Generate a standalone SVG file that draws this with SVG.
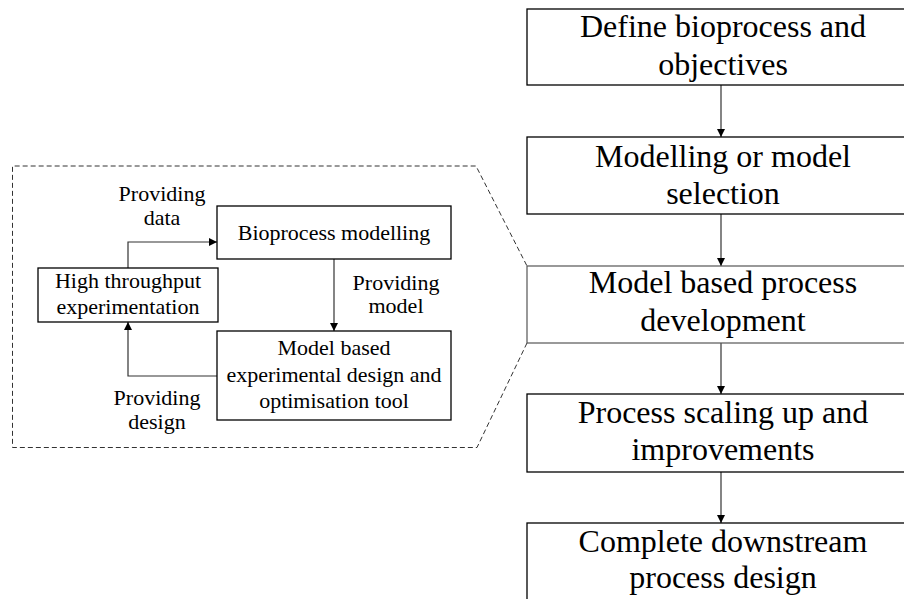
<svg xmlns="http://www.w3.org/2000/svg" width="904" height="599" viewBox="0 0 904 599">
  <style>
    .box { fill: #ffffff; stroke: #000000; stroke-width: 1.3; }
    .box-soft { fill: #ffffff; stroke: #555555; stroke-width: 1.2; }
    .big { font-family: "Liberation Serif", "Times New Roman", serif; font-size: 32px; fill: #000000; text-anchor: middle; }
    .small { font-family: "Liberation Serif", "Times New Roman", serif; font-size: 22px; fill: #000000; text-anchor: middle; }
    .conn { fill: none; stroke: #333333; stroke-width: 1.2; }
    .zoom-outline { fill: none; stroke: #333333; stroke-width: 1; stroke-dasharray: 5 3; }
  </style>
  <defs>
    <marker id="arrow" viewBox="0 0 10 10" refX="10" refY="5" markerWidth="8" markerHeight="8" markerUnits="userSpaceOnUse" orient="auto">
      <path d="M0,0 L10,5 L0,10 Z" fill="#000000"/>
    </marker>
  </defs>
  <rect width="904" height="599" fill="#ffffff"/>

  <!-- dashed callout around the detailed loop, opening onto the model based step -->
  <path class="zoom-outline" d="M527,343 L477,447.5 L12.5,447.5 L12.5,166 L476,166 L527,266"/>

  <!-- connectors -->
  <g id="connectors">
    <path class="conn" marker-end="url(#arrow)" d="M721,85 L721,137"/>
    <path class="conn" marker-end="url(#arrow)" d="M721,214 L721,266"/>
    <path class="conn" marker-end="url(#arrow)" d="M721,343 L721,394"/>
    <path class="conn" marker-end="url(#arrow)" d="M721,472 L721,523"/>
    <path class="conn" marker-end="url(#arrow)" d="M128,268 L128,242 L217,242"/>
    <path class="conn" marker-end="url(#arrow)" d="M334,259 L334,331"/>
    <path class="conn" marker-end="url(#arrow)" d="M217,376 L128,376 L128,322"/>
  </g>

  <!-- connector labels -->
  <g id="labels">
    <text class="small" x="162" y="201">Providing</text>
    <text class="small" x="162" y="225">data</text>
    <text class="small" x="396" y="290">Providing</text>
    <text class="small" x="396" y="313">model</text>
    <text class="small" x="157" y="405">Providing</text>
    <text class="small" x="157" y="429">design</text>
  </g>

  <!-- main process steps -->
  <g id="define">
    <rect class="box" x="527" y="9" width="392" height="76"/>
    <text class="big" x="723" y="37">Define bioprocess and</text>
    <text class="big" x="723" y="75">objectives</text>
  </g>
  <g id="modelling">
    <rect class="box" x="527" y="137" width="392" height="77"/>
    <text class="big" x="723" y="167">Modelling or model</text>
    <text class="big" x="723" y="204">selection</text>
  </g>
  <g id="model-based">
    <rect class="box-soft" x="527" y="266" width="392" height="77"/>
    <text class="big" x="723" y="293">Model based process</text>
    <text class="big" x="723" y="331">development</text>
  </g>
  <g id="scaling">
    <rect class="box" x="527" y="394" width="392" height="78"/>
    <text class="big" x="723" y="423">Process scaling up and</text>
    <text class="big" x="723" y="460">improvements</text>
  </g>
  <g id="downstream">
    <rect class="box" x="527" y="523" width="392" height="90"/>
    <text class="big" x="723" y="552">Complete downstream</text>
    <text class="big" x="723" y="588">process design</text>
  </g>

  <!-- detailed loop -->
  <g id="high-throughput">
    <rect class="box" x="38" y="268" width="180" height="54"/>
    <text class="small" x="128" y="288">High throughput</text>
    <text class="small" x="128" y="314">experimentation</text>
  </g>
  <g id="bioprocess-modelling">
    <rect class="box" x="217" y="206" width="234" height="53"/>
    <text class="small" x="334" y="240">Bioprocess modelling</text>
  </g>
  <g id="design-tool">
    <rect class="box" x="217" y="331" width="234" height="89"/>
    <text class="small" x="334" y="355">Model based</text>
    <text class="small" x="334" y="382">experimental design and</text>
    <text class="small" x="334" y="408">optimisation tool</text>
  </g>
</svg>
